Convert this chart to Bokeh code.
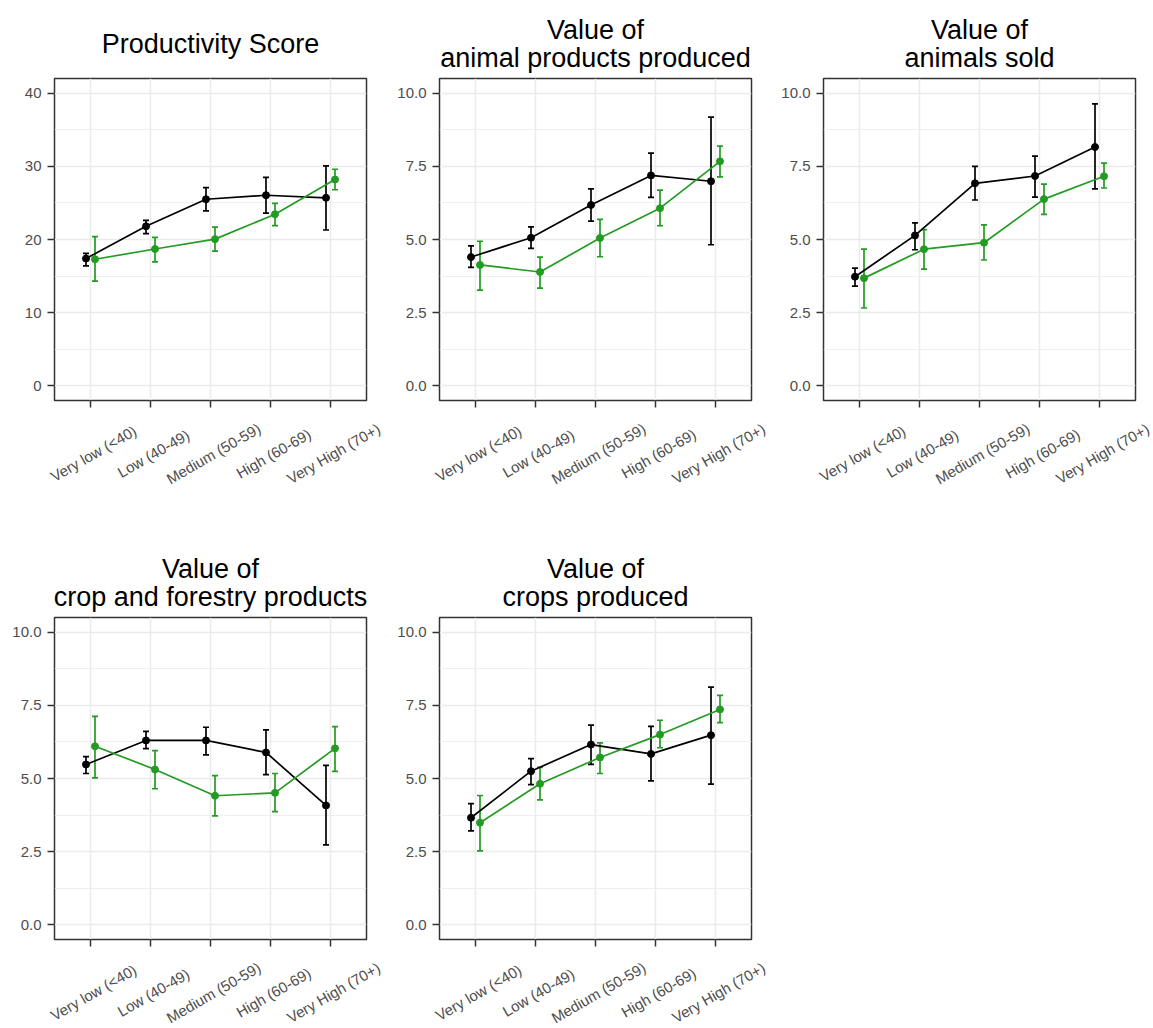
import numpy as np
from bokeh.plotting import figure
from bokeh.models import (Range1d, FixedTicker, ColumnDataSource, Whisker, TeeHead,
                          NumeralTickFormatter, BasicTickFormatter)
from bokeh.layouts import row, column
from bokeh.embed import file_html
from bokeh.resources import INLINE
from bokeh.core.properties import value

categories = ["Very low (<40)", "Low (40-49)", "Medium (50-59)", "High (60-69)", "Very High (70+)"]

titles = [["Productivity Score"],
          ["Value of", "animal products produced"],
          ["Value of", "animals sold"],
          ["Value of", "crop and forestry products"],
          ["Value of", "crops produced"]]

# Productivity Score
prod_black = [17.4, 21.8, 25.5, 26.05, 25.7]
prod_black_lo = [16.4, 20.8, 23.9, 23.6, 21.3]
prod_black_hi = [18.1, 22.6, 27.1, 28.5, 30.05]
prod_green = [17.3, 18.7, 20.05, 23.45, 28.2]
prod_green_lo = [14.3, 16.95, 18.4, 21.9, 26.8]
prod_green_hi = [20.4, 20.3, 21.7, 24.95, 29.6]

# Value of animal products produced
animp_black = [4.40, 5.06, 6.18, 7.19, 6.99]
animp_black_lo = [4.05, 4.70, 5.63, 6.44, 4.82]
animp_black_hi = [4.78, 5.43, 6.73, 7.95, 9.18]
animp_green = [4.13, 3.89, 5.05, 6.07, 7.67]
animp_green_lo = [3.27, 3.34, 4.41, 5.47, 7.14]
animp_green_hi = [4.94, 4.40, 5.69, 6.69, 8.19]

# Value of animals sold
anims_black = [3.73, 5.14, 6.92, 7.17, 8.16]
anims_black_lo = [3.41, 4.65, 6.35, 6.45, 6.73]
anims_black_hi = [4.02, 5.57, 7.50, 7.85, 9.63]
anims_green = [3.68, 4.67, 4.89, 6.38, 7.16]
anims_green_lo = [2.66, 3.99, 4.30, 5.86, 6.76]
anims_green_hi = [4.67, 5.34, 5.50, 6.89, 7.61]

# Value of crop and forestry products
cropf_black = [5.48, 6.30, 6.30, 5.89, 4.08]
cropf_black_lo = [5.17, 6.02, 5.81, 5.13, 2.73]
cropf_black_hi = [5.75, 6.61, 6.75, 6.66, 5.45]
cropf_green = [6.10, 5.31, 4.41, 4.51, 6.03]
cropf_green_lo = [5.02, 4.65, 3.72, 3.87, 5.24]
cropf_green_hi = [7.12, 5.95, 5.10, 5.17, 6.77]

# Value of crops produced
crops_black = [3.66, 5.25, 6.16, 5.84, 6.48]
crops_black_lo = [3.21, 4.79, 5.48, 4.92, 4.81]
crops_black_hi = [4.14, 5.68, 6.82, 6.78, 8.12]
crops_green = [3.49, 4.82, 5.72, 6.50, 7.36]
crops_green_lo = [2.53, 4.27, 5.17, 6.05, 6.91]
crops_green_hi = [4.42, 5.38, 6.22, 6.99, 7.84]

prod_yticks = [0, 10, 20, 30, 40]
prod_yminor = [5, 15, 25, 35]
val_yticks = [0, 2.5, 5, 7.5, 10]
val_yminor = [1.25, 3.75, 6.25, 8.75]

BLACK = "#000000"
GREEN = "#239B23"
FONT = "Liberation Sans"
DODGE = 0.075
XLIM = (0.4, 5.6)
FRAME_W = 312
FRAME_H = 322
TITLE_H = 76          # title strip height
MAIN_TOP = 2          # main figure top border
BOTTOM = 10           # main figure bottom border (tick marks)
LABEL_DROP = 43       # tick-label centre below the label strip top
BASELINES_1 = [43]
BASELINES_2 = [29, 57]


def strip(width, height, border_left, border_right):
    upp = (XLIM[1] - XLIM[0]) / FRAME_W
    lx = Range1d(XLIM[0] - border_left * upp, XLIM[1] + border_right * upp)
    s = figure(width=width, height=height, x_range=lx, y_range=Range1d(-height, 0),
               output_backend="svg", toolbar_location=None, x_axis_location=None,
               y_axis_location=None, title=None, min_border=0, min_border_left=0,
               min_border_right=0, min_border_top=0, min_border_bottom=0)
    s.grid.grid_line_color = None
    s.outline_line_color = None
    s.background_fill_color = "white"
    s.border_fill_color = "white"
    return s


def make_panel(title_lines, ylim, yticks, yminor, fmt, series, width,
               border_left, label_height):
    border_right = width - border_left - FRAME_W
    pos = np.arange(1, len(categories) + 1)

    # title strip
    t = strip(width, TITLE_H, border_left, border_right)
    bl = BASELINES_1 if len(title_lines) == 1 else BASELINES_2
    tsrc = ColumnDataSource(dict(x=[(XLIM[0] + XLIM[1]) / 2] * len(title_lines),
                                 y=[-b for b in bl], text=title_lines))
    t.text("x", "y", text="text", source=tsrc, text_align="center",
           text_baseline="alphabetic", text_font=value(FONT), text_font_size="27px",
           text_color="#000000")

    # main panel
    p = figure(width=width, height=MAIN_TOP + FRAME_H + BOTTOM, x_range=Range1d(*XLIM),
               y_range=Range1d(*ylim), output_backend="svg", toolbar_location=None,
               min_border_left=border_left, min_border_right=border_right,
               min_border_top=MAIN_TOP, min_border_bottom=BOTTOM, title=None)
    p.background_fill_color = "white"
    p.border_fill_color = "white"
    p.outline_line_color = "#333333"
    p.outline_line_width = 1.5

    xt = FixedTicker(ticks=list(pos))
    p.xaxis.ticker = xt
    p.xgrid.ticker = xt
    p.xaxis.major_label_text_color = None
    p.xaxis.major_label_text_font_size = "1px"
    p.xaxis.major_label_standoff = 0
    p.xaxis.axis_line_color = None
    p.xaxis.major_tick_line_color = "#333333"
    p.xaxis.major_tick_line_width = 1.5
    p.xaxis.major_tick_out = 7
    p.xaxis.major_tick_in = 0
    p.xaxis.minor_tick_line_color = None

    yt = FixedTicker(ticks=yticks, minor_ticks=yminor)
    p.yaxis.ticker = yt
    p.ygrid.ticker = yt
    p.yaxis.formatter = fmt
    p.yaxis.axis_line_color = None
    p.yaxis.major_tick_line_color = "#333333"
    p.yaxis.major_tick_line_width = 1.5
    p.yaxis.major_tick_out = 7
    p.yaxis.major_tick_in = 0
    p.yaxis.minor_tick_line_color = None
    p.yaxis.major_label_standoff = 6
    p.yaxis.major_label_text_font = FONT
    p.yaxis.major_label_text_font_size = "15px"
    p.yaxis.major_label_text_color = "#4D4D4D"

    p.xgrid.grid_line_color = "#EBEBEB"
    p.xgrid.grid_line_width = 1.5
    p.ygrid.grid_line_color = "#EBEBEB"
    p.ygrid.grid_line_width = 1.5
    p.ygrid.minor_grid_line_color = "#EBEBEB"
    p.ygrid.minor_grid_line_width = 0.8

    for (vals, lo, hi), color, off in zip(series, [BLACK, GREEN], [-DODGE, DODGE]):
        src = ColumnDataSource(dict(x=pos + off, y=vals, lo=lo, hi=hi))
        p.line("x", "y", source=src, line_color=color, line_width=1.7)
        w = Whisker(source=src, base="x", upper="hi", lower="lo", dimension="height",
                    line_color=color, line_width=1.7,
                    upper_head=TeeHead(size=6, line_color=color, line_width=1.7),
                    lower_head=TeeHead(size=6, line_color=color, line_width=1.7))
        p.add_layout(w)
        p.scatter("x", "y", source=src, size=7, fill_color=color, line_color=color)

    # tick-label strip below the panel, sharing the x scale
    lab = strip(width, label_height, border_left, border_right)
    lab_src = ColumnDataSource(dict(x=pos, y=[-LABEL_DROP] * len(categories), text=categories))
    lab.text("x", "y", text="text", source=lab_src, angle=30, angle_units="deg",
             text_align="center", text_baseline="middle", x_offset=3,
             text_font=value(FONT), text_font_size="15px", text_color="#4D4D4D")
    return t, p, lab


fmt_int = BasicTickFormatter()
fmt_1 = NumeralTickFormatter(format="0.0")

t1, p1, l1 = make_panel(titles[0], (-2, 42), prod_yticks, prod_yminor, fmt_int,
                        [(prod_black, prod_black_lo, prod_black_hi), (prod_green, prod_green_lo, prod_green_hi)],
                        385, 54, 129)
t2, p2, l2 = make_panel(titles[1], (-0.5, 10.5), val_yticks, val_yminor, fmt_1,
                        [(animp_black, animp_black_lo, animp_black_hi), (animp_green, animp_green_lo, animp_green_hi)],
                        385, 54, 129)
t3, p3, l3 = make_panel(titles[2], (-0.5, 10.5), val_yticks, val_yminor, fmt_1,
                        [(anims_black, anims_black_lo, anims_black_hi), (anims_green, anims_green_lo, anims_green_hi)],
                        383, 53, 129)
t4, p4, l4 = make_panel(titles[3], (-0.5, 10.5), val_yticks, val_yminor, fmt_1,
                        [(cropf_black, cropf_black_lo, cropf_black_hi), (cropf_green, cropf_green_lo, cropf_green_hi)],
                        385, 54, 79)
t5, p5, l5 = make_panel(titles[4], (-0.5, 10.5), val_yticks, val_yminor, fmt_1,
                        [(crops_black, crops_black_lo, crops_black_hi), (crops_green, crops_green_lo, crops_green_hi)],
                        420, 54, 79)

layout = column(row(t1, t2, t3, spacing=0), row(p1, p2, p3, spacing=0), row(l1, l2, l3, spacing=0),
                row(t4, t5, spacing=0), row(p4, p5, spacing=0), row(l4, l5, spacing=0), spacing=0)
open("out.html", "w").write(file_html(layout, INLINE))
